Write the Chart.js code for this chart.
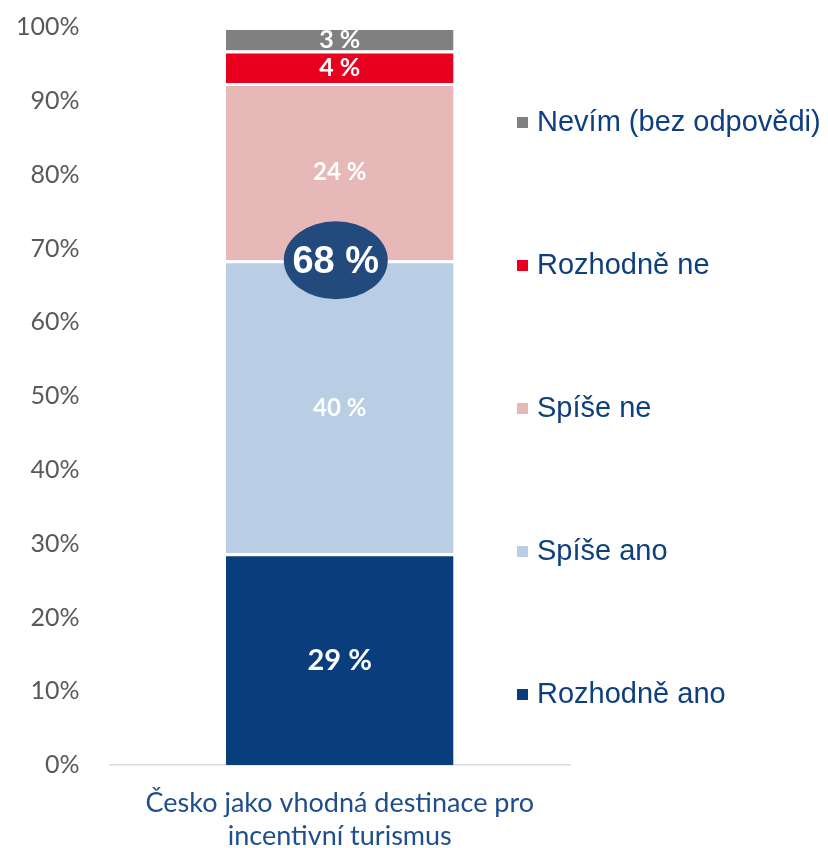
<!DOCTYPE html>
<html>
<head>
<meta charset="utf-8">
<script src="https://cdn.jsdelivr.net/npm/chart.js@4/dist/chart.umd.min.js"></script>
<style>
  html, body { margin: 0; padding: 0; background: #fff; }
  #wrap { width: 828px; height: 848px; }
</style>
</head>
<body>
<div id="wrap"><canvas id="c" width="828" height="848"></canvas></div>
<script>
// data
const categories = [["Česko jako vhodná destinace pro", "incentivní turismus"]];
const seriesNames = ["Rozhodně ano", "Spíše ano", "Spíše ne", "Rozhodně ne", "Nevím (bez odpovědi)"];
const rozhodneAno = [28.7];
const spiseAno = [39.7];
const spiseNe = [24.0];
const rozhodneNe = [4.4];
const nevim = [3.2];
const yTicks = [0, 10, 20, 30, 40, 50, 60, 70, 80, 90, 100];

const colors = ["#0a3d7c", "#b9cde5", "#e6b9b8", "#e8001e", "#808080"];
const labelFonts = [
    "bold 29px Lato", "bold 24px Lato", "bold 24px Lato", "bold 25px Lato", "bold 25px Lato"
];

// popisky hodnot uvnitř segmentů
const valueLabels = {
    id: "valueLabels",
    afterDatasetsDraw(chart) {
        const ctx = chart.ctx;
        ctx.save();
        ctx.textAlign = "center";
        ctx.textBaseline = "middle";
        chart.data.datasets.forEach((ds, i) => {
            const meta = chart.getDatasetMeta(i);
            meta.data.forEach((bar, j) => {
                const v = ds.data[j];
                ctx.font = labelFonts[i];
                ctx.fillStyle = "#ffffff";
                ctx.fillText(Math.round(v) + " %", bar.x, (bar.y + bar.base) / 2 + 1);
            });
        });
        ctx.restore();
    }
};

// ovál se součtem kladných odpovědí
const sumOval = {
    id: "sumOval",
    afterDraw(chart) {
        const ctx = chart.ctx;
        const y = chart.scales.y;
        const bar = chart.getDatasetMeta(0).data[0];
        const total = rozhodneAno[0] + spiseAno[0];
        const cx = bar.x - 4;
        const cy = y.getPixelForValue(total);
        ctx.save();
        ctx.beginPath();
        ctx.ellipse(cx, cy, 52, 39, 0, 0, Math.PI * 2);
        ctx.fillStyle = "#234a7d";
        ctx.fill();
        ctx.font = "bold 38px 'Liberation Sans'";
        ctx.fillStyle = "#ffffff";
        ctx.textAlign = "center";
        ctx.textBaseline = "middle";
        ctx.fillText(Math.round(total) + " %", cx, cy + 2);
        ctx.restore();
    }
};

// legenda vpravo
const sideLegend = {
    id: "sideLegend",
    afterDraw(chart) {
        const ctx = chart.ctx;
        const n = chart.data.datasets.length;
        ctx.save();
        ctx.font = "29px 'Liberation Sans'";
        ctx.textBaseline = "middle";
        for (let k = 0; k < n; k++) {
            const i = n - 1 - k;
            const yy = 122 + k * 143;
            ctx.fillStyle = colors[i];
            ctx.fillRect(517, yy - 5, 11, 11);
            ctx.fillStyle = "#0e3f7e";
            ctx.fillText(chart.data.datasets[i].label, 537, yy + 1);
        }
        ctx.restore();
    }
};

const values = [rozhodneAno, spiseAno, spiseNe, rozhodneNe, nevim];

new Chart(document.getElementById("c"), {
    type: "bar",
    data: {
        labels: categories,
        datasets: values.map((d, i) => ({
            label: seriesNames[i],
            data: d,
            backgroundColor: colors[i],
            borderColor: "#ffffff",
            borderWidth: { top: 3, right: 0, bottom: 0, left: 0 },
            borderSkipped: false,
            barPercentage: 0.7,
            categoryPercentage: 0.706
        }))
    },
    options: {
        responsive: false,
        animation: false,
        layout: { padding: { left: -6, right: 258, top: 27, bottom: -18 } },
        plugins: {
            legend: { display: false },
            tooltip: { enabled: false }
        },
        scales: {
            x: {
                stacked: true,
                grid: { display: false },
                border: { color: "#d9d9d9", width: 1.5 },
                ticks: {
                    color: "#1f4e8c",
                    font: { family: "Lato", size: 27, lineHeight: 1.2 },
                    padding: 14
                }
            },
            y: {
                stacked: true,
                min: 0,
                max: 100,
                afterBuildTicks(axis) {
                    axis.ticks = yTicks.map(v => ({ value: v }));
                },
                afterFit(axis) {
                    axis.paddingTop = 0;
                },
                grid: { display: false },
                border: { display: false },
                ticks: {
                    color: "#595959",
                    font: { family: "Lato", size: 25 },
                    padding: 22,
                    callback: v => v + "%"
                }
            }
        }
    },
    plugins: [valueLabels, sumOval, sideLegend]
});
</script>
</body>
</html>
